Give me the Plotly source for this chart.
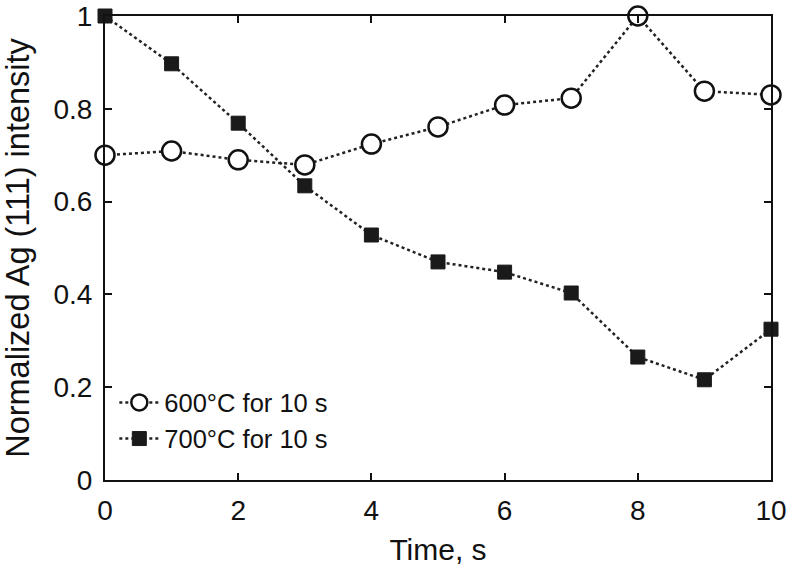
import plotly.graph_objects as go

time_s = [0, 1, 2, 3, 4, 5, 6, 7, 8, 9, 10]
int_600 = [0.700, 0.709, 0.690, 0.679, 0.724, 0.761, 0.808, 0.823, 1.000, 0.838, 0.830]
int_700 = [1.000, 0.897, 0.769, 0.634, 0.528, 0.470, 0.448, 0.403, 0.265, 0.216, 0.325]
x_ticks = [0, 2, 4, 6, 8, 10]
y_ticks = [0, 0.2, 0.4, 0.6, 0.8, 1]
y_tick_labels = ["0", "0.2", "0.4", "0.6", "0.8", "1"]

FONT = "Liberation Sans, Arial, sans-serif"

fig = go.Figure()
fig.add_trace(go.Scatter(
    x=time_s, y=int_600, mode="lines+markers", name="600°C for 10 s",
    line=dict(color="#222", width=2.5, dash="dot"),
    marker=dict(symbol="circle", size=19, color="white", line=dict(color="#111", width=2.5)),
    cliponaxis=False,
))
fig.add_trace(go.Scatter(
    x=time_s, y=int_700, mode="lines+markers", name="700°C for 10 s",
    line=dict(color="#222", width=2.5, dash="dot"),
    marker=dict(symbol="square", size=14, color="#1a1a1a", line=dict(color="#1a1a1a", width=1)),
    cliponaxis=False,
))

axis_common = dict(
    showgrid=False, zeroline=False, showline=True, linecolor="#111", linewidth=2,
    mirror="ticks", ticks="inside", ticklen=7, tickwidth=1.5, tickcolor="#111",
    automargin=False,
    tickfont=dict(family=FONT, size=28, color="#111"),
)
fig.update_xaxes(range=[0, 10], tickvals=x_ticks, ticklabelstandoff=4,
                 title=dict(text="Time, s", standoff=18,
                 font=dict(family=FONT, size=30, color="#111")),
                 **axis_common)
fig.update_yaxes(range=[0, 1], tickvals=y_ticks, ticktext=y_tick_labels, ticklabelstandoff=5,
                 title=dict(text="Normalized Ag (111) intensity", standoff=15,
                 font=dict(family=FONT, size=32.5, color="#111")),
                 **axis_common)

fig.update_layout(
    template="none",
    width=788, height=566,
    margin=dict(l=105, r=17, t=16, b=86),
    paper_bgcolor="white", plot_bgcolor="white",
    showlegend=True,
    legend=dict(x=0.014, y=0.217, xanchor="left", yanchor="top", bgcolor="rgba(0,0,0,0)",
                font=dict(family=FONT, size=25.5, color="#111"),
                itemwidth=40, tracegroupgap=0),
)
fig.write_html("out.html", config={"displayModeBar": False},
               post_script="document.body.style.margin='0';")
